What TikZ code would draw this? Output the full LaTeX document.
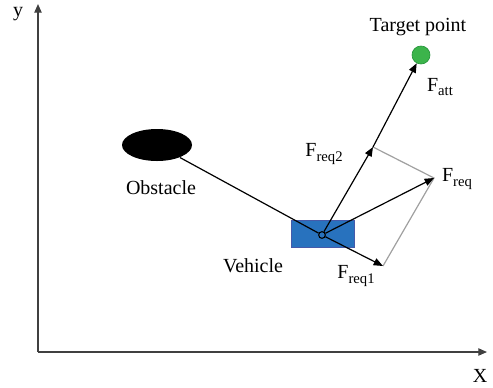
\documentclass[tikz,border=0pt]{standalone}
\usepackage{fontspec}
\setmainfont{Liberation Serif}
\usetikzlibrary{arrows.meta,shapes.geometric}

\definecolor{vehblue}{RGB}{40,114,190}
\definecolor{tgtgreen}{RGB}{60,180,75}

% lowered subscript in text font
\newcommand{\lowsub}[1]{\raisebox{-0.45ex}{\fontsize{11}{12}\selectfont #1}}

\tikzset{every picture/.style={line width=0.75pt}}

\begin{document}
\begin{tikzpicture}[x=0.75pt,y=0.75pt,yscale=-1,xscale=1,
  axis/.style={draw={rgb, 255:red, 64; green, 64; blue, 64}, line width=0.9pt, -{Triangle[length=6.5pt,width=5.5pt]}},
  force/.style={draw=black, line width=0.9pt, -{Triangle[length=7pt,width=5.5pt]}},
  helper/.style={draw={rgb, 255:red, 160; green, 160; blue, 160}, line width=0.9pt},
  lbl/.style={inner sep=0pt, font=\fontsize{15}{18}\selectfont}]
\useasboundingbox (0,0) rectangle (493,387);

%Axes
\coordinate (O) at (38,352);
\coordinate (ytip) at (38,4);
\coordinate (xtip) at (487,352);
\draw [axis] (O) -- (ytip);
\draw [axis] (O) -- (xtip);

%Shape: Ellipse
\node (obs) [ellipse, fill=black, minimum width=52.5pt, minimum height=24pt, inner sep=0pt] at (157,145) {};
%Shape: Rectangle
\node (veh) [rectangle, fill=vehblue, draw={rgb, 255:red, 70; green, 90; blue, 170}, line width=0.5pt, minimum width=47.25pt, minimum height=20.25pt, inner sep=0pt] at (322.5,233.5) {};
%Shape: Circle
\node (c) [circle, draw=black, line width=0.8pt, minimum size=5pt, inner sep=0pt] at (322,235) {};
%Shape: Circle
\node (tgt) [circle, fill=tgtgreen, draw={rgb, 255:red, 40; green, 150; blue, 60}, line width=0.5pt, minimum size=13.5pt, inner sep=0pt] at (421,55) {};

%Force tips
\coordinate (f1) at (383,266);
\coordinate (f2) at (373,147);
\coordinate (fr) at (434,178);

%Straight Lines
\draw [line width=0.9pt] (obs) -- (c);
\draw [helper] (f2) -- (fr) -- (f1);
\draw [force] (c) -- (f1);
\draw [force] (c) -- (f2);
\draw [force] (c) -- (fr);
\draw [force] (f2) -- (tgt);

% Text Node
\node [lbl] at (18,14) {y};
% Text Node
\node [lbl] at (480,376) {X};
% Text Node
\node [lbl] at (418,27) {Target point};
% Text Node
\node [lbl] at (440,87) {F\lowsub{att}};
% Text Node
\node [lbl] at (324,154) {F\lowsub{req2}};
% Text Node
\node [lbl] at (457,179) {F\lowsub{req}};
% Text Node
\node [lbl] at (356,276) {F\lowsub{req1}};
% Text Node
\node [lbl] at (161,188) {Obstacle};
% Text Node
\node [lbl] at (253,266) {Vehicle};

\end{tikzpicture}
\end{document}
